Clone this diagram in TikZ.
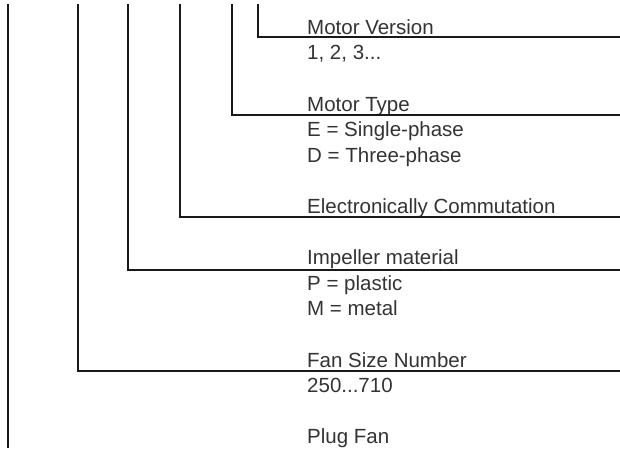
\documentclass[tikz,border=0pt]{standalone}
\usepackage{fontspec}
\setmainfont{Liberation Sans}
\begin{document}
\begin{tikzpicture}[x=1pt,y=-1pt,
  lbl/.style={anchor=base west,inner sep=0pt,font=\fontsize{20.5}{24}\selectfont,text=black!80},
  lead/.style={line width=1.2pt,draw=black!90}]
\useasboundingbox (0,0) rectangle (620,448);
% texts
\node[lbl] (mv)  at (307,34)  {Motor Version};
\node[lbl] (mvv) at (307,59.5) {1, 2, 3...};
\node[lbl] (mt)  at (307,111) {Motor Type};
\node[lbl] (mte) at (307,136.5) {E = Single-phase};
\node[lbl] (mtd) at (307,162) {D = Three-phase};
\node[lbl] (ec)  at (307,213.5) {Electronically Commutation};
\node[lbl] (im)  at (307,264.5) {Impeller material};
\node[lbl] (imp) at (307,290) {P = plastic};
\node[lbl] (imm) at (307,315.5) {M = metal};
\node[lbl] (fs)  at (307,367) {Fan Size Number};
\node[lbl] (fsv) at (307,392.5) {250...710};
\node[lbl] (pf)  at (307,443) {Plug Fan};
% leader coordinates
\coordinate (t1) at (8,4);   \coordinate (b1) at (8,448);
\coordinate (t2) at (78,4);  \coordinate (e2) at (620,371);
\coordinate (t3) at (128,4); \coordinate (e3) at (620,270);
\coordinate (t4) at (180,4); \coordinate (e4) at (620,217);
\coordinate (t5) at (232,4); \coordinate (e5) at (620,115);
\coordinate (t6) at (258,4); \coordinate (e6) at (620,37);
\draw[lead] (t1) -- (b1);
\draw[lead] (t2) |- (e2);
\draw[lead] (t3) |- (e3);
\draw[lead] (t4) |- (e4);
\draw[lead] (t5) |- (e5);
\draw[lead] (t6) |- (e6);
\end{tikzpicture}
\end{document}
